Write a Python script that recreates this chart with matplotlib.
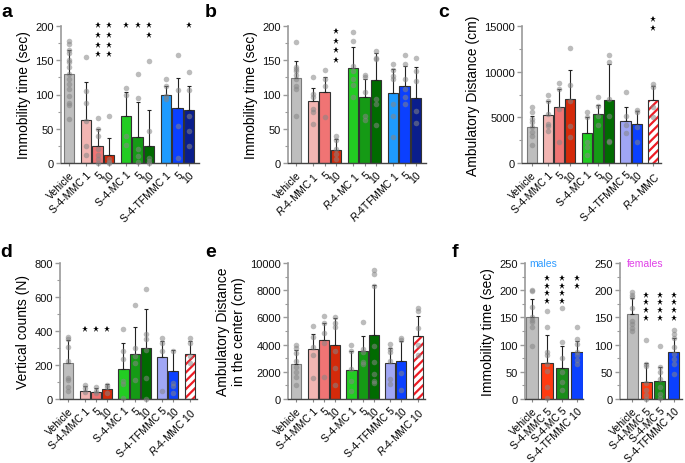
import numpy as np
import matplotlib
matplotlib.use('Agg')
import matplotlib.pyplot as plt
from matplotlib.ticker import AutoMinorLocator

plt.rcParams.update({
    'font.family': 'Liberation Sans',
    'font.size': 8,
    'mathtext.fontset': 'custom',
    'mathtext.rm': 'Liberation Sans',
    'mathtext.it': 'Liberation Sans:italic',
    'hatch.linewidth': 1.6,
})

# ---- colours ----
grey = '#BEBEBE'
mmc = ['#F2B5B2', '#F07474', '#D42A0A']
mc = ['#22CC22', '#159A15', '#016B01']
tf = ['#1E9BFF', '#0B40FF', '#0A1E8C']
colors_ab = [grey] + mmc + mc + tf
colors_cde = [grey] + mmc + mc + ['#A0A6F4', '#0B40FF', 'hatch']
colors_f = [grey, '#FF3A10', '#1A8C1A', '#0B40FF']

# ---- panel a ----
a_labels = ['Vehicle', 'S-4-MMC 1', '5', '10', 'S-4-MC 1', '5', '10', 'S-4-TFMMC 1', '5', '10']
a_means = [130, 63, 25, 11, 68, 38, 25, 100, 80, 77]
a_sd = [35, 55, 25, 25, 35, 51, 52, 12, 44, 35]
a_dots = [[178, 174, 165, 160, 150, 147, 140, 130, 122, 115, 108, 98, 88, 85, 64],
          [155, 105, 88, 62, 25, 12],
          [66, 50, 40, 20, 11, 6, 0],
          [69, 6, 2, 0],
          [110, 100, 40, 26],
          [130, 95, 20, 10, 1],
          [149, 46, 8, 3, 0],
          [122, 113, 98, 93],
          [158, 107, 54, 8],
          [133, 107, 68, 47, 25]]
a_stars = [0, 0, 4, 4, 1, 1, 2, 0, 0, 1]

# ---- panel b ----
b_labels = ['Vehicle', '$R$-4-MMC 1', '5', '10', '$R$-4-MC 1', '5', '10', '$R$-4TFMMC 1', '5', '10']
b_means = [124, 90, 104, 19.5, 138, 96, 121, 102, 113, 95]
b_sd = [25, 20, 22, 15.5, 32, 27, 39, 35, 29, 45]
b_dots = [[177, 140, 137, 134, 128, 123, 112, 108, 69],
          [125, 101, 96, 79, 75, 57],
          [136, 123, 112, 67],
          [40, 33, 20, 13, 6],
          [191, 178, 142, 135, 123, 114, 96],
          [128, 125, 104, 69, 63],
          [164, 154, 152, 94, 86, 56],
          [144, 136, 127, 123, 86, 69, 38],
          [158, 144, 123, 108, 97, 86],
          [153, 135, 120, 76, 58]]
b_stars = [0, 0, 0, 4, 0, 0, 0, 0, 0, 0]

# ---- panel c ----
c_labels = ['Vehicle', 'S-4-MMC 1', '5', '10', 'S-4-MC 1', '5', '10', 'S-4-TFMMC 5', '10', '$R$-4-MMC']
c_means = [3980, 5260, 6170, 7000, 3285, 5370, 6900, 4560, 4230, 6900]
c_sd = [1200, 1570, 1930, 3180, 1715, 980, 3940, 1610, 1500, 1500]
c_dots = [[6100, 5550, 4820, 4450, 3900, 3360, 3000, 2000],
          [7480, 6830, 5370, 4270, 4090, 3540],
          [8760, 8100, 5910, 2260],
          [12590, 8580, 6830, 4090, 2810],
          [5550, 5000, 2260, 1720, 876],
          [7260, 6280, 5180, 4200],
          [11860, 11100, 7000, 5180, 2450, 2260],
          [7810, 5110, 4160, 3250],
          [5800, 5550, 3900, 2260],
          [8650, 8290, 6100, 5000]]
c_stars = [0, 0, 0, 0, 0, 0, 0, 0, 0, 2]

# ---- panel d ----
de_labels = ['Vehicle', 'S-4-MMC 1', '5', '10', 'S-4-MC 1', '5', '10', 'S-4-TFMMC 5', '10', '$R$-4-MMC 10']
d_means = [211, 48, 43, 56, 178, 265, 298, 248, 163, 262]
d_sd = [134, 26, 21, 31, 152, 157, 231, 95, 124, 81]
d_dots = [[366, 353, 306, 223, 126, 112, 68, 48],
          [81, 62, 43],
          [68, 48, 35],
          [81, 72, 35],
          [413, 281, 238, 103, 87, 4],
          [552, 300, 254, 209, 112],
          [649, 382, 353, 287, 126, 0],
          [358, 329, 281, 48],
          [285, 97, 74, 35],
          [358, 329, 252, 213]]
d_stars = [0, 1, 1, 1, 0, 0, 0, 0, 0, 0]

# ---- panel e ----
e_means = [2590, 3650, 4310, 3970, 2150, 3510, 4720, 2640, 2760, 4600]
e_sd = [1040, 1120, 1300, 1960, 1410, 1090, 3630, 1110, 1480, 1500]
e_dots = [[3990, 3750, 3390, 2780, 2350, 2010, 1620, 1040],
          [5370, 4530, 3820, 3270, 1570],
          [6070, 5610, 4840, 4120, 1650],
          [6000, 5560, 5270, 3530, 2250, 1020],
          [3990, 3510, 2180, 1330, 605],
          [5640, 3700, 3460, 2710, 2570],
          [9510, 9200, 8280, 3920, 2730, 1815, 1330, 1210],
          [4070, 3700, 3440, 2780, 1450, 1090],
          [4480, 4310, 1890, 680],
          [6660, 6460, 5250, 3990, 3270]]

# ---- panel f ----
f_labels = ['Vehicle', 'S-4-MMC 5', 'S-4-MC 5', 'S-4-TFMMC 10']
fm_means = [151, 67, 57, 87]
fm_sd = [32, 50, 41, 20]
fm_dots = [[201, 198, 170, 150, 146, 141, 132, 98],
           [162, 132, 87, 80, 64, 51, 22, 1],
           [167, 104, 75, 49, 31, 16],
           [132, 111, 101, 86, 81, 72, 64]]
fm_stars = [0, 4, 4, 2]
ff_means = [157, 31, 34, 86]
ff_sd = [28, 36, 24, 27]
ff_dots = [[197, 192, 188, 167, 143, 137, 131, 125],
           [108, 64, 61, 30, 16, 7, 0],
           [98, 58, 49, 37, 22, 10, 1],
           [126, 120, 113, 95, 83, 73, 64, 46]]
ff_stars = [0, 4, 4, 4]

pos_ab = np.array([0, 1.45, 2.45, 3.45, 4.9, 5.9, 6.9, 8.35, 9.35, 10.35])
pos_cde = np.array([0, 1.45, 2.45, 3.45, 4.9, 5.9, 6.9, 8.35, 9.35, 10.8])
pos_f = np.arange(4)


def panel(ax, pos, means, sd, dots, colors, labels, ylim, yticks, xlim,
          ylabel=None, stars=None, star_top=0, star_step=0, width=0.9):
    for i, x in enumerate(pos):
        c = colors[i]
        if c == 'hatch':
            ax.bar(x, means[i], width, color='white', edgecolor='#EE1C25',
                   hatch='////', lw=0, zorder=1)
            ax.bar(x, means[i], width, fill=False, edgecolor='#333333', lw=0.8, zorder=1.1)
        else:
            edge = '#7a7a7a' if i == 0 else '#333333'
            ax.bar(x, means[i], width, color=c, edgecolor=edge, lw=0.8, zorder=1)
        ax.errorbar(x, means[i], yerr=[[0], [sd[i]]], fmt='none', ecolor='#222222',
                    elinewidth=0.8, capsize=1.2, capthick=0.8, zorder=2)
        ax.scatter(np.full(len(dots[i]), x), dots[i], s=16, color='#858585',
                   alpha=0.55, lw=0, zorder=3, clip_on=False)
    if stars is not None:
        for i, n in enumerate(stars):
            for k in range(n):
                ax.plot(pos[i], star_top - k * star_step, marker='*', ms=4.6,
                        color='k', mew=0, clip_on=False, zorder=4)
    ax.set_xlim(*xlim)
    ax.set_ylim(*ylim)
    ax.set_yticks(yticks)
    ax.yaxis.set_minor_locator(AutoMinorLocator(2))
    ax.set_xticks(pos)
    ax.set_xticklabels(labels, rotation=45, ha='right', va='top',
                       rotation_mode='anchor', fontsize=7.5)
    for s in ['top', 'right']:
        ax.spines[s].set_visible(False)
    ax.spines['left'].set_color('#9a9a9a')
    ax.spines['left'].set_linewidth(1.2)
    ax.spines['bottom'].set_color('#444444')
    ax.spines['bottom'].set_linewidth(1.0)
    ax.tick_params(axis='y', which='major', color='#9a9a9a', labelcolor='#111111',
                   length=3.5, width=1, labelsize=8, pad=1.5)
    ax.tick_params(axis='y', which='minor', color='#9a9a9a', length=2, width=0.8)
    ax.tick_params(axis='x', color='#888888', length=2.5, width=0.8, pad=2)
    if ylabel:
        ax.set_ylabel(ylabel, fontsize=10, labelpad=3)


fig = plt.figure(figsize=(6.85, 4.64), dpi=100)
W, H = 685, 464


def add_ax(l, r, t, b):
    return fig.add_axes([l / W, 1 - b / H, (r - l) / W, (b - t) / H])


ax_a = add_ax(61, 199, 27, 164)
ax_b = add_ax(288, 426, 27, 164)
ax_c = add_ax(522, 661, 27, 164)
ax_d = add_ax(60, 197, 264, 400)
ax_e = add_ax(288, 425, 264, 400)
ax_f1 = add_ax(525, 583, 264, 400)
ax_f2 = add_ax(620, 682, 264, 400)

panel(ax_a, pos_ab, a_means, a_sd, a_dots, colors_ab, a_labels, (0, 200),
      [0, 50, 100, 150, 200], (-0.7, 11.2), 'Immobility time (sec)',
      a_stars, 201, 14.2)
panel(ax_b, pos_ab, b_means, b_sd, b_dots, colors_ab, b_labels, (0, 200),
      [0, 50, 100, 150, 200], (-0.7, 11.2), 'Immobility time (sec)',
      b_stars, 192, 13.8)
panel(ax_c, pos_cde, c_means, c_sd, c_dots, colors_cde, c_labels, (0, 15000),
      [0, 5000, 10000, 15000], (-0.85, 11.5), 'Ambulatory Distance (cm)',
      c_stars, 15770, 1020)
panel(ax_d, pos_cde, d_means, d_sd, d_dots, colors_cde, de_labels, (0, 800),
      [0, 200, 400, 600, 800], (-0.75, 11.45), 'Vertical counts (N)',
      d_stars, 413, 0)
panel(ax_e, pos_cde, e_means, e_sd, e_dots, colors_cde, de_labels, (0, 10000),
      [0, 2000, 4000, 6000, 8000, 10000], (-0.75, 11.45),
      'Ambulatory Distance\nin the center (cm)')
panel(ax_f1, pos_f, fm_means, fm_sd, fm_dots, colors_f, f_labels, (0, 250),
      [0, 50, 100, 150, 200, 250], (-0.47, 3.4), 'Immobility time (sec)',
      fm_stars, 222, 14, width=0.8)
panel(ax_f2, pos_f, ff_means, ff_sd, ff_dots, colors_f, f_labels, (0, 250),
      [0, 50, 100, 150, 200, 250], (-0.9, 3.6), None,
      ff_stars, 192, 14.5, width=0.8)

ax_f1.text(0.75, 250, 'males', color='#2E9BFF', fontsize=7.5, ha='center', va='center')
ax_f2.text(0.96, 250, 'females', color='#E040E8', fontsize=7.5, ha='center', va='center')

for letter, x, y in [('a', 1, 17), ('b', 205, 17), ('c', 438, 17),
                     ('d', 0, 257), ('e', 205, 257), ('f', 452, 257)]:
    fig.text(x / W, 1 - y / H, letter, fontsize=14, fontweight='bold', va='baseline')

fig.savefig('out.png', dpi=100)
